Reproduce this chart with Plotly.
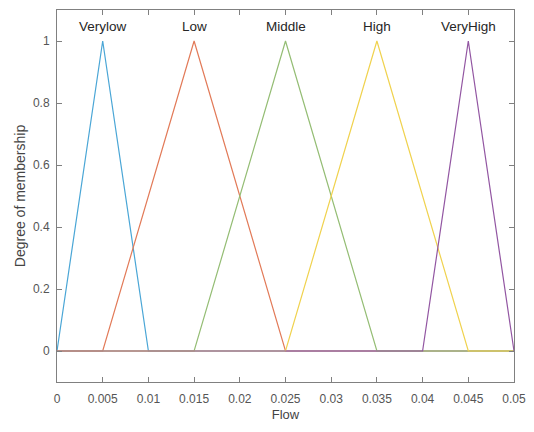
import plotly.graph_objects as go

# Membership function parameters (triangular: a, b, c)
names = ["Verylow", "Low", "Middle", "High", "VeryHigh"]
a_vals = [0.0, 0.005, 0.015, 0.025, 0.040]
b_vals = [0.005, 0.015, 0.025, 0.035, 0.045]
c_vals = [0.010, 0.025, 0.035, 0.045, 0.050]
colors = ["#4aa6d6", "#e27a58", "#94bd74", "#f0d24e", "#9256a2"]

x_min, x_max = 0.0, 0.05
x_ticks = [0, 0.005, 0.01, 0.015, 0.02, 0.025, 0.03, 0.035, 0.04, 0.045, 0.05]
x_tick_labels = ["0", "0.005", "0.01", "0.015", "0.02", "0.025", "0.03", "0.035", "0.04", "0.045", "0.05"]
y_ticks = [0, 0.2, 0.4, 0.6, 0.8, 1]
y_tick_labels = ["0", "0.2", "0.4", "0.6", "0.8", "1"]

fig = go.Figure()
for n, a, b, c, col in zip(names, a_vals, b_vals, c_vals, colors):
    xs = [x_min, a, b, c, x_max]
    ys = [0, 0, 1, 0, 0]
    fig.add_trace(go.Scatter(x=xs, y=ys, mode="lines", name=n,
                             line=dict(color=col, width=1.2), showlegend=False))
    fig.add_annotation(x=b, y=1.0, yanchor="bottom", yshift=5, text=n,
                       showarrow=False, font=dict(size=13.5, color="#262626"))

axis_common = dict(showline=True, linecolor="#808080", linewidth=1, mirror="ticks",
                   ticks="inside", ticklen=5, tickcolor="#808080", showgrid=False,
                   zeroline=False, automargin=False,
                   tickfont=dict(size=12, color="#555555"))

fig.update_layout(
    width=526, height=416,
    margin=dict(l=49, r=20, t=2, b=42),
    paper_bgcolor="white", plot_bgcolor="white",
    font=dict(family="Liberation Sans, Arial, sans-serif", color="#555555"),
    xaxis=dict(range=[x_min, x_max], tickvals=x_ticks, ticktext=x_tick_labels,
               ticklabelstandoff=6, ticklabeloverflow="allow",
               title=dict(text="Flow", font=dict(size=13, color="#444444"), standoff=4),
               **axis_common),
    yaxis=dict(range=[-0.1, 1.1], tickvals=y_ticks, ticktext=y_tick_labels,
               ticklabelstandoff=4,
               title=dict(text="Degree of membership", font=dict(size=14, color="#444444"), standoff=4),
               **axis_common),
)

fig.write_html("out.html")
